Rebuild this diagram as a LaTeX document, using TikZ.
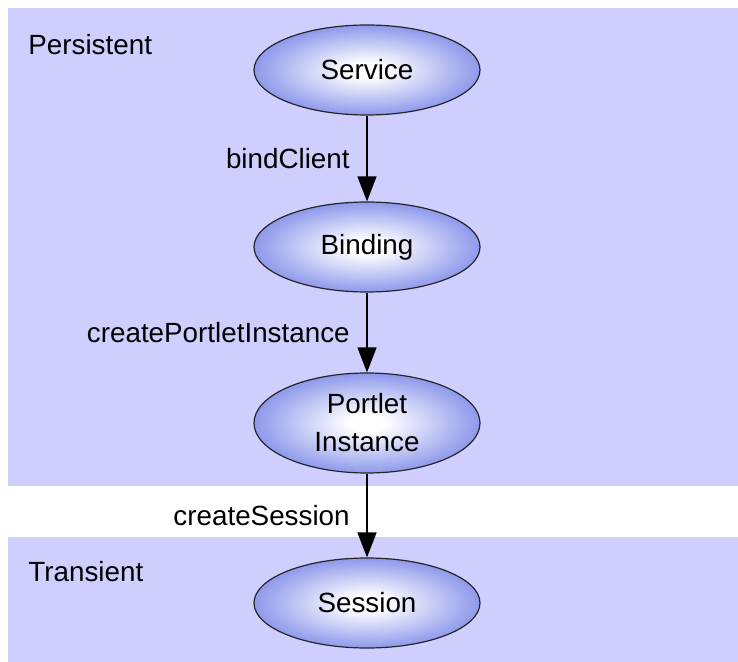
\documentclass[tikz,border=0pt]{standalone}
\usepackage{fontspec}
\setmainfont{Liberation Sans}
\usepackage{tikz}
\usetikzlibrary{positioning,shapes.geometric,arrows.meta}
\definecolor{zone}{RGB}{206,206,255}
\definecolor{rim}{RGB}{88,104,226}
\pgfdeclareradialshading{glow}{\pgfpoint{0bp}{0bp}}{color(0bp)=(white); color(4bp)=(white); color(35bp)=(rim); color(60bp)=(rim)}

\begin{document}
\begin{tikzpicture}[x=0.5pt, y=-0.5pt, font=\fontsize{13.9}{19}\selectfont]
        \tikzstyle{state}=[ellipse, draw=black!85, line width=0.6pt, shading=glow, minimum width=113pt, minimum height=45pt, inner sep=0pt, align=center];
        \tikzstyle{call}=[-{Triangle[length=12.5pt,width=9.5pt]}, line width=0.7pt, black];
        \tikzstyle{zlabel}=[anchor=west, inner sep=0pt];

        \useasboundingbox (0,0) rectangle (738,662);
        % zones
        \fill[zone] (8,8) rectangle (738,486);
        \fill[zone] (8,537) rectangle (738,662);
        \node[zlabel] (pz) at (28,45) {Persistent};
        \node[zlabel] (tz) at (28,572) {Transient};

        % states
        \node[state] (svc) at (367,70) {Service};
        \node[state] (bind) at (367,247) {Binding};
        \node[state, minimum height=50pt] (inst) at (367,423) {Portlet\\Instance};
        \node[state] (sess) at (367,603) {Session};

        % calls
        \draw[call] (svc) -- node[midway, left=5pt] {bindClient} (bind);
        \draw[call] (bind) -- node[midway, left=5pt] {createPortletInstance} (inst);
        \draw[call] (inst) -- node[midway, left=5pt] {createSession} (sess);
\end{tikzpicture}
\end{document}
